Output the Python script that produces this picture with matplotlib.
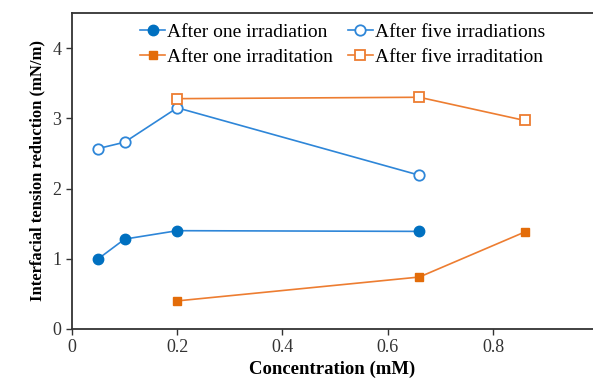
import matplotlib.pyplot as plt

plt.rcParams['font.family'] = ['Liberation Serif', 'DejaVu Serif']

# data
x_blue = [0.05, 0.1, 0.2, 0.66]
one_irr = [1.00, 1.28, 1.40, 1.39]
five_irr = [2.57, 2.66, 3.15, 2.19]

x_orange = [0.2, 0.66, 0.86]
one_irrt = [0.40, 0.74, 1.38]
five_irrt = [3.28, 3.30, 2.97]

blue = '#0070C0'
blue_line = '#2E86D8'
orange = '#E36C09'
orange_line = '#ED7D31'

fig = plt.figure(figsize=(5.93, 3.81), dpi=100)
ax = fig.add_axes([0.1214, 0.1365, 0.8786, 0.8294])

l1, = ax.plot(x_blue, one_irr, color=blue_line, lw=1.2, marker='o', ms=7.5,
              mfc=blue, mec=blue, label='After one irradiation')
l2, = ax.plot(x_blue, five_irr, color=blue_line, lw=1.2, marker='o', ms=7.5,
              mfc='white', mec=blue_line, mew=1.3, label='After five irradiations')
l3, = ax.plot(x_orange, one_irrt, color=orange_line, lw=1.2, marker='s', ms=6,
              mfc=orange, mec=orange, label='After one irraditation')
l4, = ax.plot(x_orange, five_irrt, color=orange_line, lw=1.2, marker='s', ms=7,
              mfc='white', mec=orange_line, mew=1.3, label='After five irraditation')

ax.set_xlim(0, 0.99)
ax.set_ylim(0, 4.5)
ax.set_xticks([0, 0.2, 0.4, 0.6, 0.8])
ax.set_xticklabels(['0', '0.2', '0.4', '0.6', '0.8'])
ax.set_yticks([0, 1, 2, 3, 4])

ax.tick_params(labelsize=13, colors='#333333', direction='out', length=4, width=1)
for s in ['left', 'bottom', 'top']:
    ax.spines[s].set_color('#333333')
    ax.spines[s].set_linewidth(1.3)
ax.spines['right'].set_visible(False)

ax.set_xlabel('Concentration (mM)', fontsize=13.5, fontweight='bold', labelpad=3)
ax.set_ylabel('Interfacial tension reduction (mN/m)', fontsize=12, fontweight='bold', labelpad=5)

ax.legend(handles=[l1, l3, l2, l4], loc='upper left', bbox_to_anchor=(0.11, 1.0),
          ncol=2, frameon=False, fontsize=14, handlelength=1.3, handletextpad=0.1,
          columnspacing=0.75, labelspacing=0.35, borderaxespad=0.15)

fig.savefig('out.png', dpi=100)
